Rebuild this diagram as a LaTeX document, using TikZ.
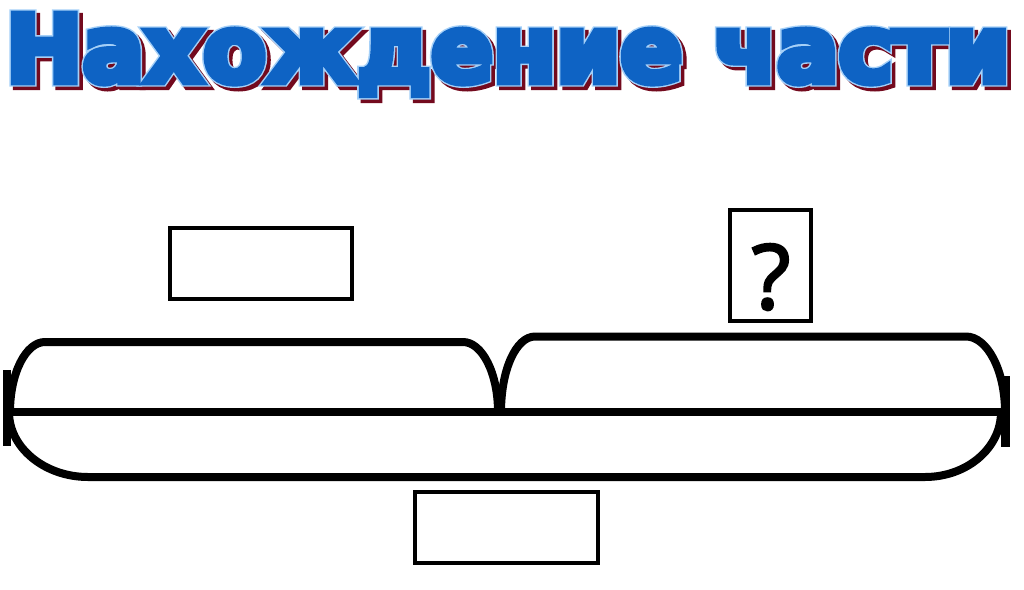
\documentclass[tikz,border=0pt]{standalone}
\usepackage{fontspec}
\setmainfont{DejaVu Sans}
\IfFontExistsTF{DejaVu Sans Condensed}{%
  \newfontfamily\ttlfontA{DejaVu Sans Condensed}[FakeBold=7]%
  \newfontfamily\ttlfontB{DejaVu Sans Condensed}[FakeBold=10]%
}{%
  \newfontfamily\ttlfontA{DejaVu Sans}[FakeBold=7]%
  \newfontfamily\ttlfontB{DejaVu Sans}[FakeBold=10]%
}
\newfontfamily\qfont{Open Sans}[FakeBold=2.5]
\definecolor{ttlblue}{RGB}{14,99,196}
\definecolor{ttllight}{RGB}{165,208,248}
\definecolor{ttlred}{RGB}{115,10,30}
\newcommand\ttlA{\resizebox{1004pt}{68pt}{\ttlfontA\bfseries Нахождение части}}
\newcommand\ttlB{\resizebox{1004pt}{68pt}{\ttlfontB\bfseries Нахождение части}}
\tikzset{
  layer/.style={inner sep=0pt, outer sep=0pt, anchor=base west},
  answerbox/.style={draw=black, line width=3.6pt, inner sep=0pt, fill=white},
  bracepath/.style={draw=black, line width=8pt, line join=round},
  tickline/.style={draw=black, line width=8.5pt},
}
\begin{document}
\begin{tikzpicture}[x=1pt,y=-1pt]
\useasboundingbox (0,0) rectangle (1024,589);
\fill[white] (0,0) rectangle (1024,589);
\coordinate (tb) at (6,82);
% title: shadow, light outline, blue body
\node[layer, text=ttlred] (shadow) at ([shift={(3.5,3.5)}]tb) {\ttlB};
\node[layer, text=ttllight] (outline) at (tb) {\ttlB};
\node[layer, text=ttlblue] (title) at (tb) {\ttlA};

% boxes
\node[answerbox, minimum width=182pt, minimum height=71pt] (leftbox) at (261,263.5) {};
\node[answerbox, minimum width=81pt, minimum height=111pt, line width=3.3pt] (qbox) at (770.5,265.5) {};
\node[inner sep=0pt, anchor=base, font=\qfont\fontsize{90}{90}\selectfont] (q) at (771,309) {?};
\node[answerbox, minimum width=183pt, minimum height=71pt] (bottombox) at (506.5,527.5) {};

% segment and ticks
\coordinate (L) at (8,412);
\coordinate (R) at (1004,412);
\draw[bracepath] (L) -- (R);
\draw[tickline] (7,370) -- (7,446);
\draw[tickline] (1005.5,376) -- (1005.5,447);

% upper braces
\draw[bracepath] (10,412) .. controls (10,373) and (26,342) .. (45,342)
  -- (463,342) .. controls (482,342) and (498,373) .. (498,412);
\draw[bracepath] (501,412) .. controls (501,370) and (516,336.5) .. (535,336.5)
  -- (966,336.5) .. controls (987,336.5) and (1005,370) .. (1005,412);
% lower brace
\draw[bracepath] (9,412) .. controls (9,448) and (45,477) .. (88,477)
  -- (925,477) .. controls (967,477) and (1001,448) .. (1001,412);
\end{tikzpicture}
\end{document}
